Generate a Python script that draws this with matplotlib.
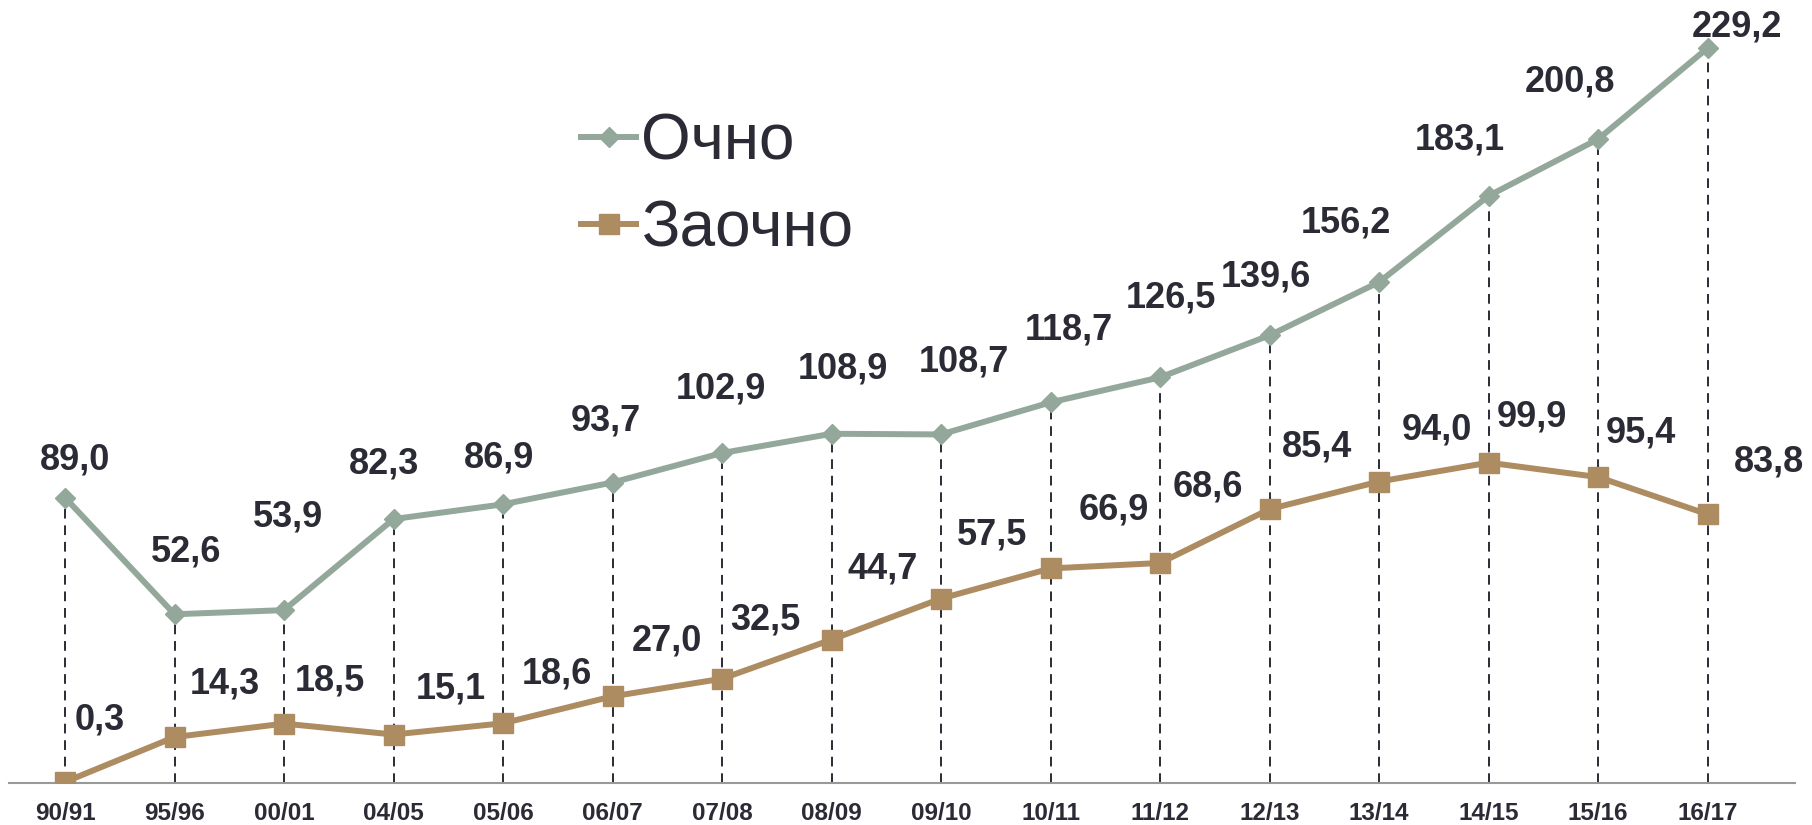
import matplotlib.pyplot as plt
import numpy as np

years = ["90/91", "95/96", "00/01", "04/05", "05/06", "06/07", "07/08", "08/09",
         "09/10", "10/11", "11/12", "12/13", "13/14", "14/15", "15/16", "16/17"]
ochno = [89.0, 52.6, 53.9, 82.3, 86.9, 93.7, 102.9, 108.9,
         108.7, 118.7, 126.5, 139.6, 156.2, 183.1, 200.8, 229.2]
zaochno = [0.3, 14.3, 18.5, 15.1, 18.6, 27.0, 32.5, 44.7,
           57.5, 66.9, 68.6, 85.4, 94.0, 99.9, 95.4, 83.8]

# положение подписей относительно точки, в пунктах (dx, dy)
ochno_off = [(7.5, 27), (8, 45), (3, 67), (-7, 40), (-3, 33), (-5, 44), (-1, 46), (8.5, 47),
             (16.5, 52), (13, 52), (8, 57), (-2.5, 42), (-24, 42.5), (-21, 40), (-20, 41.5), (21.5, 15)]
zaochno_off = [(25, 44.5), (36.5, 38), (33, 31), (41, 33), (38.5, 35.5), (39, 40), (31, 42), (37, 50.5),
               (36.5, 46), (45.5, 42), (34.5, 55), (34, 44.5), (41.5, 37), (31, 33), (31, 31.5), (44, 37.5)]

c_och = "#93a89b"
c_zao = "#ad8c62"
txt = "#2b2b36"

plt.rcParams['font.family'] = ['Liberation Sans', 'DejaVu Sans']

fig = plt.figure(figsize=(18.12, 8.25), dpi=100)
ax = fig.add_axes([0.005, 0.051, 0.9854, 0.949])

x = np.arange(len(years))
ax.vlines(x, 0, ochno, colors=txt, linestyles=(0, (5, 3.5)), linewidth=1.4, zorder=1)

ax.plot(x, ochno, color=c_och, linewidth=4.3, marker="D", markersize=10, label="Очно", zorder=3)
ax.plot(x, zaochno, color=c_zao, linewidth=4.3, marker="s", markersize=14, label="Заочно", zorder=3)

for i in range(len(x)):
    ax.annotate(f"{ochno[i]:.1f}".replace(".", ","), (x[i], ochno[i]),
                xytext=ochno_off[i], textcoords="offset points",
                ha="center", va="center", fontsize=26, fontweight="bold", color=txt)
    ax.annotate(f"{zaochno[i]:.1f}".replace(".", ","), (x[i], zaochno[i]),
                xytext=zaochno_off[i], textcoords="offset points",
                ha="center", va="center", fontsize=26, fontweight="bold", color=txt)

ax.set_xlim(-0.511, 15.795)
ax.set_ylim(0, 244.2)
ax.set_xticks(x)
ax.set_xticklabels(years, fontsize=17.5, fontweight="bold", color=txt)
ax.tick_params(axis="x", length=0, pad=14)
ax.set_yticks([])
for s in ["top", "left", "right"]:
    ax.spines[s].set_visible(False)
ax.spines["bottom"].set_color("#999999")
ax.spines["bottom"].set_linewidth(1.5)

ax.legend(loc="upper left", bbox_to_anchor=(0.288, 0.93), frameon=False,
          fontsize=46, handlelength=0.87, handletextpad=0.08, labelspacing=0.43,
          labelcolor=txt)

fig.savefig("out.png", dpi=100)
